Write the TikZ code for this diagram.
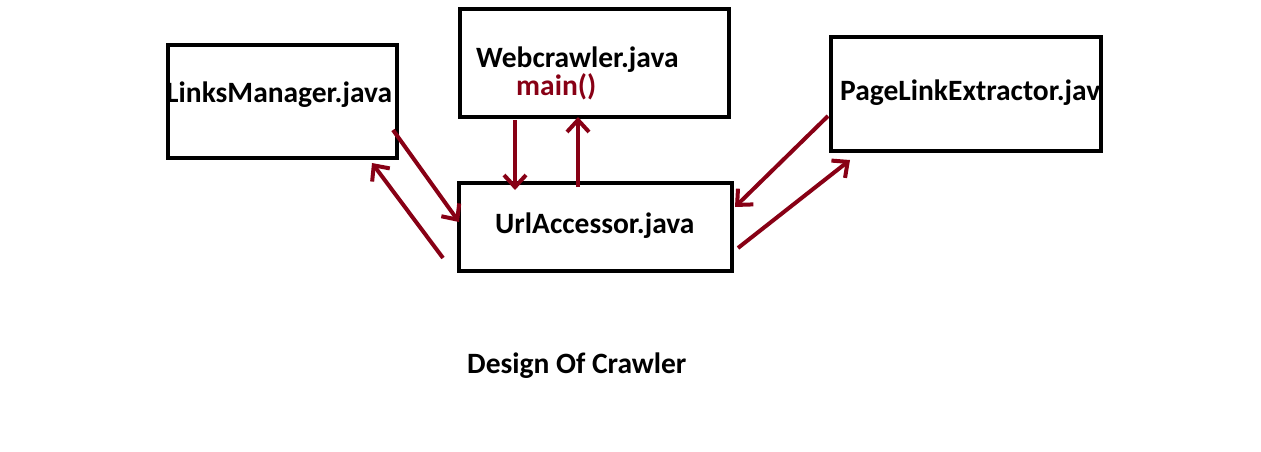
\documentclass[tikz,border=0pt]{standalone}
\usepackage{fontspec}
\setmainfont{Carlito}
\usetikzlibrary{arrows.meta}
\definecolor{darkred}{RGB}{136,0,21}
\begin{document}
\begin{tikzpicture}[x=1pt,y=-1pt,
  boxstyle/.style={draw,line width=4pt,inner sep=0pt,outer sep=0pt,anchor=north west},
  lbl/.style={font=\bfseries\fontsize{29.5}{33}\selectfont,inner sep=0pt,anchor=west},
  conn/.style={draw=darkred,line width=4pt,-{Straight Barb[length=12pt,width=22pt,line width=4pt]}}]
\useasboundingbox (0,0) rectangle (1261,452);
\fill[white] (0,0) rectangle (1261,452);
% boxes
\node[boxstyle,minimum width=229pt,minimum height=113pt] (lmbox) at (168,45) {};
\node[boxstyle,minimum width=269pt,minimum height=108pt] (wcbox) at (460,9) {};
\node[boxstyle,minimum width=270pt,minimum height=114pt] (plbox) at (831,37) {};
\node[boxstyle,minimum width=273pt,minimum height=88pt] (uabox) at (459,183) {};
% labels
\node[lbl] (lm) at (166,95) {LinksManager.java};
\node[lbl] (wc) at (476,60) {Webcrawler.java};
\node[lbl,text=darkred] (mn) at (516,87) {main()};
\node[lbl] (pl) at (840,93) {PageLinkExtractor.jav};
\node[lbl] (ua) at (495,226) {UrlAccessor.java};
\node[lbl] (title) at (467,366) {Design Of Crawler};
% connector endpoints
\coordinate (a1s) at (393,130); \coordinate (a1e) at (459,222);
\coordinate (a2s) at (443,258); \coordinate (a2e) at (372,163);
\coordinate (a3s) at (515,120); \coordinate (a3e) at (515,190);
\coordinate (a4s) at (578,187); \coordinate (a4e) at (578,117);
\coordinate (a5s) at (828,116); \coordinate (a5e) at (735,207);
\coordinate (a6s) at (738,248); \coordinate (a6e) at (850,160);
\draw[conn] (a1s) -- (a1e);
\draw[conn] (a2s) -- (a2e);
\draw[conn] (a3s) -- (a3e);
\draw[conn] (a4s) -- (a4e);
\draw[conn] (a5s) -- (a5e);
\draw[conn] (a6s) -- (a6e);
\end{tikzpicture}
\end{document}
